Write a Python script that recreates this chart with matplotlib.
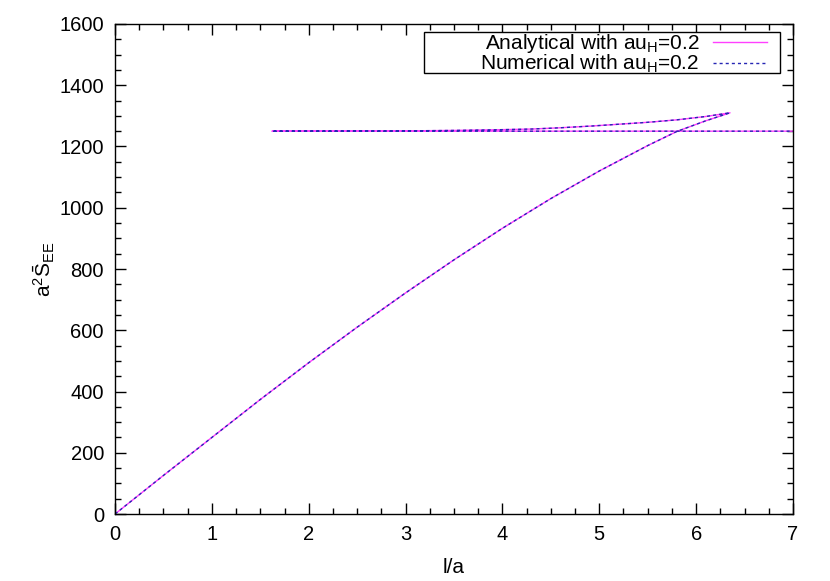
import matplotlib
matplotlib.use('Agg')
import matplotlib.pyplot as plt
from matplotlib.patches import Rectangle
from matplotlib.ticker import MultipleLocator, AutoMinorLocator

plt.rcParams.update({
    'font.family': ['Liberation Sans', 'DejaVu Sans'],
    'font.size': 14,
    'mathtext.default': 'regular',
})

# ── curve: lower branch, upper branch, flat branch ──
LOW_X = [0, 0.5, 1, 1.5, 2, 2.5, 3, 3.5, 4, 4.5, 5, 5.5, 5.8, 6.1, 6.35]
LOW_Y = [0, 126, 250, 374, 494, 610, 722, 830, 933, 1030, 1120, 1203, 1249, 1284, 1310]
UP_X = [6.35, 6.1, 5.8, 5.5, 4.93, 4.59, 4.3, 4.0, 3.5, 3.0, 2.5, 2.0, 1.62]
UP_Y = [1310, 1298, 1287, 1279, 1267, 1261, 1257, 1255, 1252.5, 1251, 1250.4, 1250.1, 1250]
FLAT_X = [1.62, 3.0, 5.0, 7.2]
FLAT_Y = [1250, 1250, 1250, 1250]

curve_x = LOW_X + UP_X[1:] + FLAT_X[1:]
curve_y = LOW_Y + UP_Y[1:] + FLAT_Y[1:]

LABEL_ANA = 'Analytical with au$_{H}$=0.2'
LABEL_NUM = 'Numerical with au$_{H}$=0.2'

fig = plt.figure(figsize=(8.3, 5.81), dpi=100)
ax = fig.add_axes([0.1386, 0.1153, 0.8168, 0.8434])

ax.plot(curve_x, curve_y, color='#ff40ff', linewidth=1.0, label=LABEL_ANA)
ax.plot(curve_x, curve_y, color='#2626b4', linewidth=1.0,
        linestyle=(0, (2.2, 2.2)), label=LABEL_NUM)

ax.set_xlim(0, 7)
ax.set_ylim(0, 1600)
ax.xaxis.set_major_locator(MultipleLocator(1))
ax.yaxis.set_major_locator(MultipleLocator(200))
ax.xaxis.set_minor_locator(AutoMinorLocator(4))
ax.yaxis.set_minor_locator(AutoMinorLocator(4))
ax.tick_params(which='both', direction='in', top=True, right=True, width=1.0)
ax.tick_params(which='major', length=8, pad=8, labelsize=14.5)
ax.tick_params(which='minor', length=4)
for sp in ax.spines.values():
    sp.set_linewidth(1.0)

ax.set_xlabel('l/a', labelpad=10, fontsize=15)
ax.set_ylabel(r'a$^{2}\bar{S}_{EE}$', labelpad=2, fontsize=15)

# gnuplot-style key: wide box drawn by hand, entries right aligned inside it
ax.add_patch(Rectangle((0.4558, 0.900), 0.525, 0.0837, transform=ax.transAxes,
                       facecolor='white', edgecolor='black', linewidth=1.0,
                       zorder=4))
leg = ax.legend(loc='center right', bbox_to_anchor=(0.9617, 0.9395),
                markerfirst=False, frameon=False, handlelength=2.6,
                borderaxespad=0, borderpad=0, labelspacing=-0.1,
                handletextpad=0.65, fontsize=15.0)
leg.set_zorder(5)

fig.savefig('out.png', dpi=100)
